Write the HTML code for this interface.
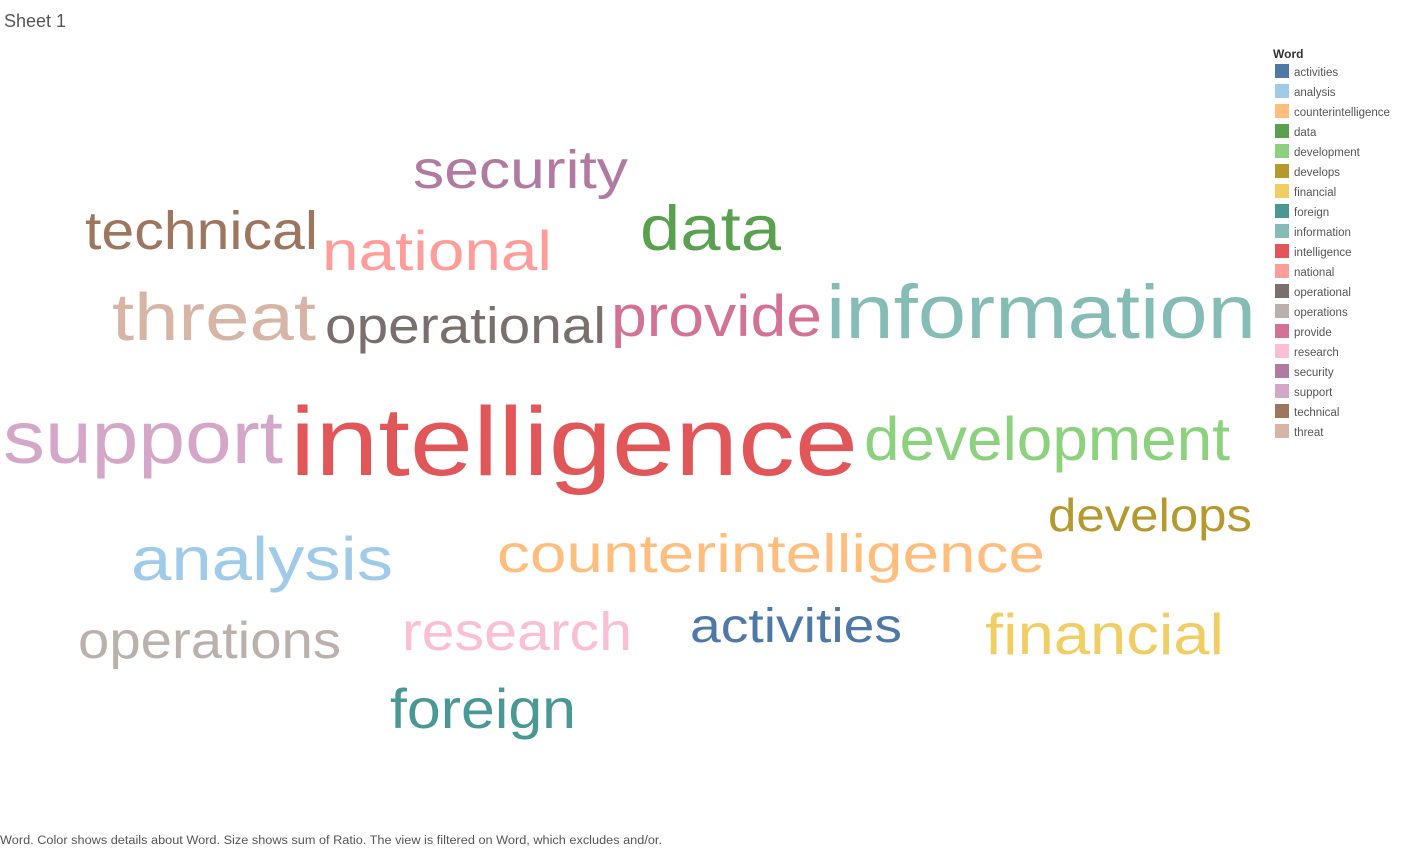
<!DOCTYPE html>
<html><head><meta charset="utf-8"><style>
html,body{margin:0;padding:0;background:#fff;width:1412px;height:848px;overflow:hidden;font-family:"Liberation Sans",sans-serif}
</style></head><body>
<svg width="1412" height="848" xmlns="http://www.w3.org/2000/svg">
<text x="4" y="27" font-size="18" fill="#555">Sheet 1</text>
<g id="cloud"></g>
<g id="legend">
<text x="1273" y="58" font-size="12" font-weight="bold" fill="#333">Word</text>
</g>
<text x="0" y="844" font-size="11.5" fill="#555" textLength="662" lengthAdjust="spacingAndGlyphs">Word.  Color shows details about Word.  Size shows sum of Ratio. The view is filtered on Word, which excludes and/or.</text>
</svg>
<script>
const words=["activities","analysis","counterintelligence","data","development","develops","financial","foreign","information","intelligence","national","operational","operations","provide","research","security","support","technical","threat"];
const colors=["#4e79a7","#a0cbe8","#ffbe7d","#59a14f","#8cd17d","#b6992d","#f1ce63","#499894","#86bcb6","#e15759","#ff9d9a","#79706e","#bab0ac","#d37295","#fabfd2","#b07aa1","#d4a6c8","#9d7660","#d7b5a6"];
const ratio=[52,66,58,68,66,50,62,60,82,105,60,55,56,63,58,58,80,58,72];
// layout: [left, baseline, width]
const layout=[[690,642,212],[131,580,262],[497,572,548],[640,250,141],[864,460,366],[1048,531,204],[985,654,239],[390,728,186],[826,338,430],[290,475,568],[322,270,230],[325,343,281],[78,658,263],[611,336,211],[402,650,230],[413,188,215],[3,463,280],[85,249,233],[112,340,204]];
const SCALE=0.93;
const NS="http://www.w3.org/2000/svg";
const cloud=document.getElementById('cloud'),leg=document.getElementById('legend');
words.forEach((w,i)=>{
  const t=document.createElementNS(NS,'text');
  t.setAttribute('x',layout[i][0]);t.setAttribute('y',layout[i][1]);
  t.setAttribute('font-size',ratio[i]*SCALE);t.setAttribute('fill',colors[i]);
  t.setAttribute('textLength',layout[i][2]);t.setAttribute('lengthAdjust','spacingAndGlyphs');
  t.textContent=w;
  
  
  cloud.appendChild(t);
  const r=document.createElementNS(NS,'rect');
  r.setAttribute('x',1275);r.setAttribute('y',64+i*20);r.setAttribute('width',14);r.setAttribute('height',14);r.setAttribute('fill',colors[i]);
  
  
  leg.appendChild(r);
  const l=document.createElementNS(NS,'text');
  l.setAttribute('x',1294);l.setAttribute('y',76+i*20);l.setAttribute('font-size',11.5);l.setAttribute('fill','#555');
  l.textContent=w;
  
  
  leg.appendChild(l);
});
</script>
</body></html>
